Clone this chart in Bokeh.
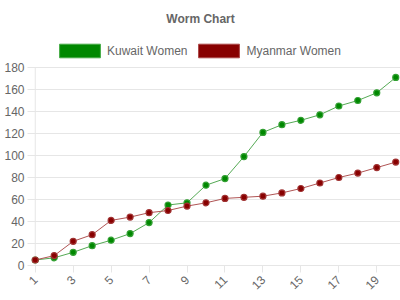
from bokeh.plotting import figure
from bokeh.models import Legend, LegendItem, FixedTicker, Range1d, Label
from bokeh.embed import file_html
from bokeh.resources import INLINE

days = list(range(1, 21))
kuwait_women = [5, 7, 12, 18, 23, 29, 39, 55, 57, 73, 79, 99, 121, 128, 132, 137, 145, 150, 157, 171]
myanmar_women = [5, 9, 22, 28, 41, 44, 48, 50, 54, 57, 61, 62, 63, 66, 70, 75, 80, 84, 89, 94]
y_tick_values = list(range(0, 181, 20))
x_tick_values = list(range(1, 20, 2))
series_names = ["Kuwait Women", "Myanmar Women"]
chart_title = "Worm Chart"

FONT = "Liberation Sans"
GRID = "#e6e6e6"
TXT = "#666666"

y_top = 180 * 265 / 198.0  # extend range so 180 sits at the same height as in the reference

p = figure(width=400, height=300, output_backend="svg", toolbar_location=None,
           x_range=Range1d(0.75, 20.25), y_range=Range1d(0, y_top),
           min_border_left=30, min_border_right=0, min_border_top=0,
           min_border_bottom=35, title=None)
p.outline_line_color = None
p.background_fill_color = "white"

p.xgrid.visible = False
p.ygrid.grid_line_color = GRID
p.ygrid.ticker = FixedTicker(ticks=y_tick_values)

p.yaxis.ticker = FixedTicker(ticks=y_tick_values)
p.yaxis.axis_line_color = None
p.yaxis.major_tick_line_color = GRID
p.yaxis.major_tick_out = 3
p.yaxis.major_tick_in = 5
p.yaxis.minor_tick_line_color = None
p.yaxis.major_label_standoff = 3
p.yaxis.major_label_text_font = FONT
p.yaxis.major_label_text_font_size = "12px"
p.yaxis.major_label_text_color = TXT

p.xaxis.ticker = FixedTicker(ticks=x_tick_values)
p.xaxis.axis_line_color = GRID
p.xaxis.major_tick_line_color = GRID
p.xaxis.major_tick_out = 7
p.xaxis.major_tick_in = 0
p.xaxis.minor_tick_line_color = None
p.xaxis.major_label_orientation = 0.785398
p.xaxis.major_label_standoff = 5
p.xaxis.major_label_text_font = FONT
p.xaxis.major_label_text_font_size = "12px"
p.xaxis.major_label_text_color = TXT

# vertical axis line at the first category
p.segment(x0=[days[0]], y0=[y_tick_values[0]], x1=[days[0]], y1=[y_tick_values[-1]],
          line_color=GRID, line_width=1)

p.line(days, kuwait_women, line_color="#55aa55", line_width=1)
p.scatter(days, kuwait_women, size=6, fill_color="#008800", line_color="#33a033", line_width=1.2)
p.line(days, myanmar_women, line_color="#b05555", line_width=1)
p.scatter(days, myanmar_women, size=6, fill_color="#880000", line_color="#a03333", line_width=1.2)

# legend swatches (outside visible range, only used for legend)
g_sw = p.block(x=[-10], y=[-10], width=1, height=1, fill_color="#008800", line_color="#44aa44")
r_sw = p.block(x=[-10], y=[-10], width=1, height=1, fill_color="#880000", line_color="#aa4444")

legend = Legend(items=[LegendItem(label=series_names[0], renderers=[g_sw]),
                       LegendItem(label=series_names[1], renderers=[r_sw])],
                orientation="horizontal", location=(24, 206),
                glyph_width=51, glyph_height=17, label_standoff=2, spacing=6,
                label_text_font=FONT, label_text_font_size="12px", label_text_color=TXT,
                border_line_color=None, background_fill_alpha=0, padding=0, margin=0)
p.add_layout(legend)

p.add_layout(Label(x=9.71, y=224.5, text=chart_title, text_align="center", text_baseline="middle",
                   text_font=FONT, text_font_size="12px", text_font_style="bold", text_color=TXT))

open("out.html", "w").write(file_html(p, INLINE))
